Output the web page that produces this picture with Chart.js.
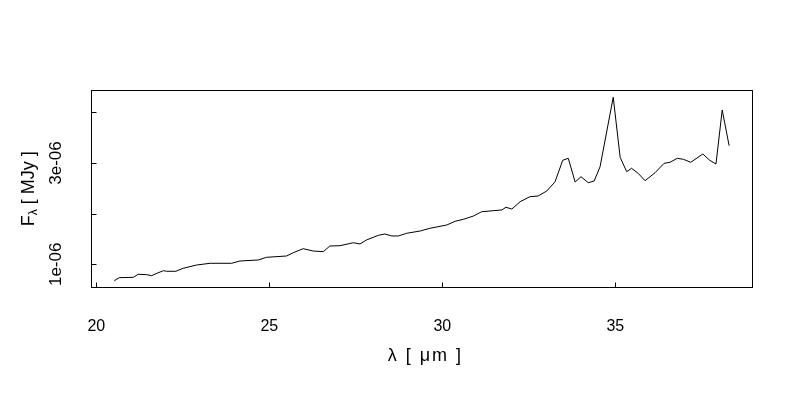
<!DOCTYPE html>
<html>
<head>
<meta charset="utf-8">
<script src="https://cdn.jsdelivr.net/npm/chart.js@4"></script>
<style>
  html, body { margin: 0; padding: 0; background: #fff; }
  #wrap { width: 800px; height: 400px; }
</style>
</head>
<body>
<div id="wrap"><canvas id="chart" width="800" height="400"></canvas></div>
<script>
// wavelength in micron, flux in MJy
const wavelength = [
  20.52, 20.66, 21.07, 21.21, 21.46, 21.60, 21.75, 21.94, 22.03, 22.30,
  22.51, 22.90, 23.29, 23.91, 24.15, 24.68, 24.92, 25.50, 25.69, 25.98,
  26.27, 26.56, 26.75, 27.04, 27.43, 27.62, 27.81, 28.15, 28.34, 28.54,
  28.73, 28.97, 29.36, 29.64, 30.13, 30.37, 30.61, 30.90, 31.14, 31.47,
  31.72, 31.84, 32.01, 32.25, 32.53, 32.77, 33.02, 33.26, 33.48, 33.64,
  33.84, 34.01, 34.22, 34.39, 34.56, 34.94, 35.14, 35.33, 35.47, 35.66,
  35.86, 36.15, 36.41, 36.58, 36.79, 36.97, 37.18, 37.53, 37.72, 37.91,
  38.09, 38.29
];
const flux = [
  0.676e-6, 0.736e-6, 0.743e-6, 0.803e-6, 0.795e-6, 0.775e-6, 0.822e-6, 0.874e-6, 0.862e-6, 0.862e-6,
  0.921e-6, 0.986e-6, 1.020e-6, 1.020e-6, 1.065e-6, 1.085e-6, 1.138e-6, 1.164e-6, 1.229e-6, 1.308e-6,
  1.262e-6, 1.249e-6, 1.361e-6, 1.367e-6, 1.426e-6, 1.401e-6, 1.480e-6, 1.572e-6, 1.598e-6, 1.559e-6,
  1.559e-6, 1.612e-6, 1.657e-6, 1.710e-6, 1.776e-6, 1.849e-6, 1.888e-6, 1.953e-6, 2.038e-6, 2.058e-6,
  2.072e-6, 2.125e-6, 2.091e-6, 2.235e-6, 2.334e-6, 2.348e-6, 2.447e-6, 2.630e-6, 3.053e-6, 3.092e-6,
  2.624e-6, 2.729e-6, 2.610e-6, 2.644e-6, 2.926e-6, 4.296e-6, 3.112e-6, 2.828e-6, 2.895e-6, 2.796e-6,
  2.650e-6, 2.808e-6, 2.993e-6, 3.013e-6, 3.092e-6, 3.072e-6, 3.013e-6, 3.177e-6, 3.058e-6, 2.979e-6,
  4.045e-6, 3.341e-6
];

const xTicks = [20, 25, 30, 35];
const yTicks = [1e-6, 2e-6, 3e-6, 4e-6];
const yTickLabels = ["1e-06", "", "3e-06", ""];

const xTitle = "λ [ μm ]";
const yTitleMain = "F";
const yTitleSub = "λ";
const yTitleRest = " [ MJy ]";

const points = wavelength.map((w, i) => ({ x: w, y: flux[i] }));

// box, inward tick marks and axis titles, R style
const rFrame = {
  id: "rFrame",
  beforeDraw(chart) {
    const ctx = chart.ctx;
    ctx.save();
    ctx.fillStyle = "#fff";
    ctx.fillRect(0, 0, chart.width, chart.height);
    ctx.restore();
  },
  afterDraw(chart) {
    const ctx = chart.ctx;
    const a = chart.chartArea;
    const xs = chart.scales.x;
    const ys = chart.scales.y;
    ctx.save();
    ctx.strokeStyle = "#000";
    ctx.lineWidth = 1;
    const L = Math.round(a.left) + 0.5, R = Math.round(a.right) + 0.5;
    const T = Math.round(a.top) + 0.5, B = Math.round(a.bottom) + 0.5;
    ctx.strokeRect(L, T, R - L, B - T);
    ctx.beginPath();
    xTicks.forEach((v) => {
      const px = Math.round(xs.getPixelForValue(v)) + 0.5;
      ctx.moveTo(px, B);
      ctx.lineTo(px, B - 5);
    });
    yTicks.forEach((v) => {
      const py = Math.round(ys.getPixelForValue(v)) + 0.5;
      ctx.moveTo(L, py);
      ctx.lineTo(L + 5, py);
    });
    ctx.stroke();

    ctx.fillStyle = "#000";
    ctx.textBaseline = "middle";
    ctx.textAlign = "center";
    ctx.font = "18px 'Liberation Sans', Arial, sans-serif";
    ctx.letterSpacing = "2px";
    ctx.fillText(xTitle, (a.left + a.right) / 2 + 4, 356);
    ctx.letterSpacing = "0px";

    // y title, rotated, with subscript lambda
    ctx.translate(29, (a.top + a.bottom) / 2);
    ctx.rotate(-Math.PI / 2);
    const fMain = "18px 'Liberation Sans', Arial, sans-serif";
    const fSub = "12px 'Liberation Sans', Arial, sans-serif";
    ctx.font = fMain;
    const w1 = ctx.measureText(yTitleMain).width;
    const w3 = ctx.measureText(yTitleRest).width;
    ctx.font = fSub;
    const w2 = ctx.measureText(yTitleSub).width;
    let x0 = -(w1 + w2 + w3) / 2;
    ctx.textAlign = "left";
    ctx.font = fMain;
    ctx.fillText(yTitleMain, x0, 0);
    ctx.font = fSub;
    ctx.fillText(yTitleSub, x0 + w1, 5);
    ctx.font = fMain;
    ctx.fillText(yTitleRest, x0 + w1 + w2, 0);
    ctx.restore();
  },
};

new Chart(document.getElementById("chart"), {
  type: "line",
  data: {
    datasets: [
      {
        data: points,
        borderColor: "#000",
        borderWidth: 1,
        pointRadius: 0,
        tension: 0,
        fill: false,
      },
    ],
  },
  options: {
    responsive: false,
    animation: false,
    events: [],
    layout: { padding: { top: 90, right: 48, left: 0, bottom: 0 } },
    plugins: { legend: { display: false }, tooltip: { enabled: false } },
    scales: {
      x: {
        type: "linear",
        min: 19.838,
        max: 38.951,
        afterBuildTicks: (s) => { s.ticks = xTicks.map((v) => ({ value: v })); },
        afterFit: (s) => { s.height = 112.7; },
        grid: { display: false },
        border: { display: false },
        ticks: {
          color: "#000",
          font: { family: "'Liberation Sans', Arial, sans-serif", size: 16 },
          padding: 22,
          maxRotation: 0,
          autoSkip: false,
          callback: (v) => String(v),
        },
      },
      y: {
        type: "linear",
        min: 0.546e-6,
        max: 4.44e-6,
        afterBuildTicks: (s) => { s.ticks = yTicks.map((v) => ({ value: v })); },
        afterFit: (s) => { s.width = 90.7; },
        grid: { display: false },
        border: { display: false },
        ticks: {
          color: "#000",
          font: { family: "'Liberation Sans', Arial, sans-serif", size: 17 },
          padding: 5,
          minRotation: 90,
          maxRotation: 90,
          crossAlign: "center",
          autoSkip: false,
          callback: (v, i) => yTickLabels[i],
        },
      },
    },
  },
  plugins: [rFrame],
});
</script>
</body>
</html>
